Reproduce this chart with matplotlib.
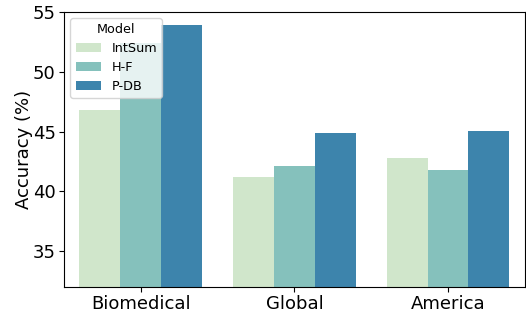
import matplotlib
matplotlib.use("Agg")
import matplotlib.pyplot as plt
import numpy as np

categories = ["Biomedical", "Global", "America"]
models = ["IntSum", "H-F", "P-DB"]
values = {
    "IntSum": [46.8, 41.2, 42.8],
    "H-F": [52.4, 42.1, 41.8],
    "P-DB": [53.9, 44.9, 45.05],
}
colors = ["#d0e6cb", "#85c1bc", "#3d84ac"]

fig = plt.figure(figsize=(5.26, 3.13), dpi=100)
ax = fig.add_axes([0.1217, 0.083, 0.876, 0.879])

x = np.arange(len(categories))
width = 0.8 / len(models)
for i, (m, c) in enumerate(zip(models, colors)):
    ax.bar(x - 0.4 + width * (i + 0.5), values[m], width, color=c, label=m)

ax.set_xlim(-0.5, len(categories) - 0.5)
ax.set_ylim(32, 55)
ax.set_yticks([35, 40, 45, 50, 55])
ax.set_xticks(x)
ax.set_xticklabels(categories)
ax.tick_params(axis="both", labelsize=13, pad=2.5)
ax.set_ylabel("Accuracy (%)", fontsize=13, labelpad=0)
ax.legend(title="Model", loc="upper left", fontsize=9.2, title_fontsize=9.2,
          labelspacing=0.45)

fig.savefig("out.png", dpi=100)
